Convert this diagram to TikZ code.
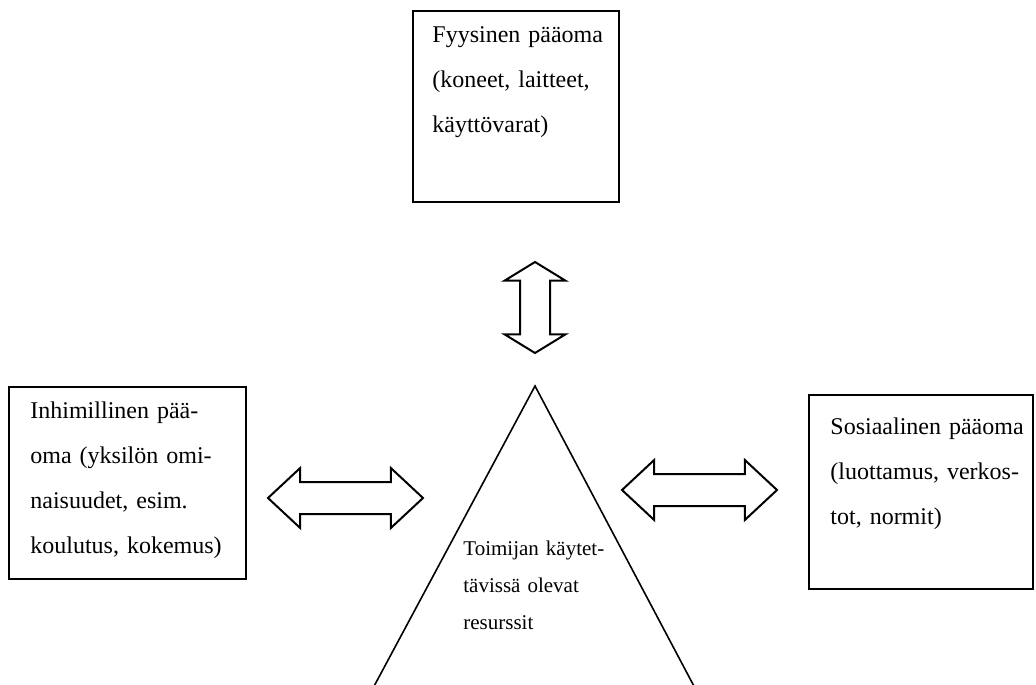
\documentclass[tikz,border=0pt]{standalone}
\usepackage{fontspec}
\setmainfont{Liberation Serif}
\usetikzlibrary{shapes.arrows}
\begin{document}
\begin{tikzpicture}[x=0.5pt,y=-0.5pt,
  capbox/.style={draw, line width=1.1pt, inner sep=0pt, anchor=north west},
  boxtext/.style={anchor=base west, inner sep=0pt, align=left, text width=120pt,
    font=\fontsize{12}{22.5}\selectfont},
  restext/.style={anchor=base west, inner sep=0pt, align=left, text width=90pt,
    font=\fontsize{10.5}{18.5}\selectfont},
  blockarrow/.style={double arrow, draw, fill=white, line width=1pt,
    inner xsep=0pt, minimum width=0pt},
  linkarrow/.style={blockarrow, inner ysep=7.5pt,
    double arrow head extend=7pt, double arrow tip angle=86,
    minimum height=77.5pt}
]
\useasboundingbox (0,0) rectangle (1036,684);
\clip (0,0) rectangle (1036,684);

% the three forms of capital
\node[capbox, minimum width=103pt, minimum height=95.5pt] (phys) at (412,10) {};
\node[boxtext] (physt) at (432,43) {Fyysinen pääoma\\(koneet, laitteet,\\käyttövarat)};

\node[capbox, minimum width=118.5pt, minimum height=96pt] (human) at (8,386) {};
\node[boxtext] (humant) at (30,418) {Inhimillinen pää-\\oma (yksilön omi-\\naisuudet, esim.\\koulutus, kokemus)};

\node[capbox, minimum width=112pt, minimum height=97pt] (social) at (808,394) {};
\node[boxtext] (socialt) at (830,434) {Sosiaalinen pääoma\\(luottamus, verkos-\\tot, normit)};

% the actor's resources
\coordinate (apex) at (535,386);
\coordinate (baseL) at (372,690);
\coordinate (baseR) at (696,690);
\draw[line width=0.8pt] (baseL) -- (apex) -- (baseR);
\node[restext] (rest) at (463,555) {Toimijan käytet-\\tävissä olevat\\resurssit};

% two-way block arrows
\node[blockarrow, rotate=90, inner ysep=7pt,
  double arrow head extend=7.75pt, double arrow tip angle=117,
  minimum height=45.5pt] (varr) at (535,307.5) {};
\node[linkarrow] (larr) at (345.5,498) {};
\node[linkarrow] (rarr) at (699.5,490) {};
\end{tikzpicture}
\end{document}
